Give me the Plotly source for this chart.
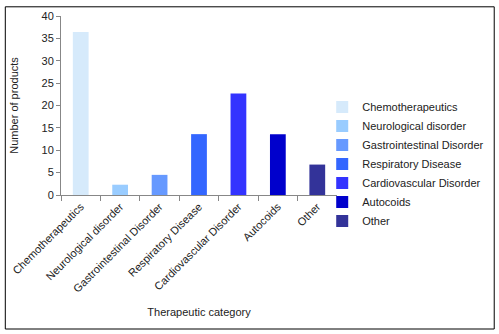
import plotly.graph_objects as go

categories = ["Chemotherapeutics", "Neurological disorder", "Gastrointestinal Disorder",
              "Respiratory Disease", "Cardiovascular Disorder", "Autocoids", "Other"]
values = [36.4, 2.3, 4.5, 13.6, 22.7, 13.6, 6.8]
colors = ["#D6EAFB", "#99CCFF", "#6699FF", "#3366FF", "#3333FF", "#0000CC", "#333399"]
y_ticks = [0, 5, 10, 15, 20, 25, 30, 35, 40]

W, H = 499, 334
ml, mr, mt, mb = 57, 162, 10, 139
pw, ph = W - ml - mr, H - mt - mb

fig = go.Figure()
for c, v, col in zip(categories, values, colors):
    fig.add_trace(go.Bar(x=[c], y=[v], name=c, marker=dict(color=col, line=dict(width=0)),
                         width=0.4))

axis_col = "#878787"
fnt = dict(family="Liberation Sans, Arial, sans-serif", size=11, color="#222222")
fig.update_layout(
    width=W, height=H,
    margin=dict(l=ml, r=mr, t=mt, b=mb),
    barmode="overlay",
    plot_bgcolor="white", paper_bgcolor="white",
    font=fnt,
    showlegend=True,
    legend=dict(x=(352 - ml - 30) / pw, y=(H - mb - 89) / ph, xanchor="left", yanchor="top",
                bgcolor="rgba(0,0,0,0)", tracegroupgap=0, font=fnt,
                itemwidth=30),
    xaxis=dict(categoryorder="array", categoryarray=categories, showline=True,
               linecolor=axis_col, linewidth=1, ticks="outside", tickson="boundaries",
               tickcolor=axis_col, ticklen=5, tickangle=-45, showgrid=False,
               tickfont=fnt,
               title=dict(text="Therapeutic category", standoff=14, font=fnt), range=[-0.5, 6.5]),
    yaxis=dict(range=[0, 40], tickvals=y_ticks, showline=True, linecolor=axis_col,
               linewidth=1, ticks="outside", tickcolor=axis_col, ticklen=4,
               showgrid=False, zeroline=False, tickfont=fnt,
               title=dict(text="Number of products", standoff=20, font=fnt)),
    shapes=[dict(type="rect", xref="paper", yref="paper",
                 x0=-ml / pw + 0.5 / pw, x1=1 + (mr - 2.5) / pw,
                 y0=-mb / ph + 0.5 / ph, y1=1 + (mt - 0.5) / ph,
                 line=dict(color="black", width=1))],
)

fig.write_html("out.html")
